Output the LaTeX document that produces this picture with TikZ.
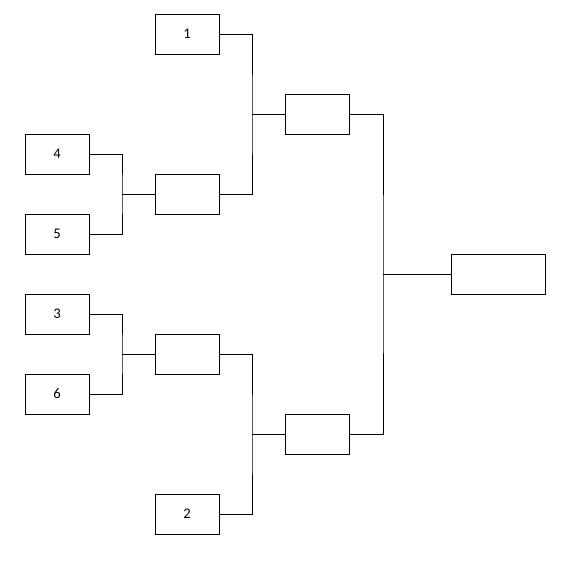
\documentclass[tikz,border=0pt]{standalone}
\usepackage{fontspec}
\setmainfont{Carlito}
\begin{document}
\begin{tikzpicture}[x=1pt,y=-1pt,line width=1pt,
  slot/.style={draw=black,line width=1pt,minimum width=64pt,minimum height=40pt,inner sep=0pt,font=\fontsize{14.7}{16}\selectfont},
  wide/.style={slot,minimum width=94pt},
  link/.style={draw=black,line width=1pt}]
\useasboundingbox[fill=white] (0,0) rectangle (565,565);
\node[slot] (s1) at (187,34) {1};
\node[slot] (s4) at (57,154) {4};
\node[slot] (s5) at (57,234) {5};
\node[slot] (r2a) at (187,194) {};
\node[slot] (sfa) at (317,114) {};
\node[slot] (s3) at (57,314) {3};
\node[slot] (s6) at (57,394) {6};
\node[slot] (r2b) at (187,354) {};
\node[slot] (s2) at (187,514) {2};
\node[slot] (sfb) at (317,434) {};
\node[wide] (fin) at (498,274) {};
\coordinate (j45) at (122,194);
\coordinate (j36) at (122,354);
\coordinate (ja) at (252,114);
\coordinate (jb) at (252,434);
\coordinate (jf) at (383,274);
\draw[link] (s4.east) -| (j45) |- (s5.east);
\draw[link] (j45) -- (r2a.west);
\draw[link] (s3.east) -| (j36) |- (s6.east);
\draw[link] (j36) -- (r2b.west);
\draw[link] (s1.east) -| (ja) |- (r2a.east);
\draw[link] (ja) -- (sfa.west);
\draw[link] (r2b.east) -| (jb) |- (s2.east);
\draw[link] (jb) -- (sfb.west);
\draw[link] (sfa.east) -| (jf) |- (sfb.east);
\draw[link] (jf) -- (fin.west);
\end{tikzpicture}
\end{document}
